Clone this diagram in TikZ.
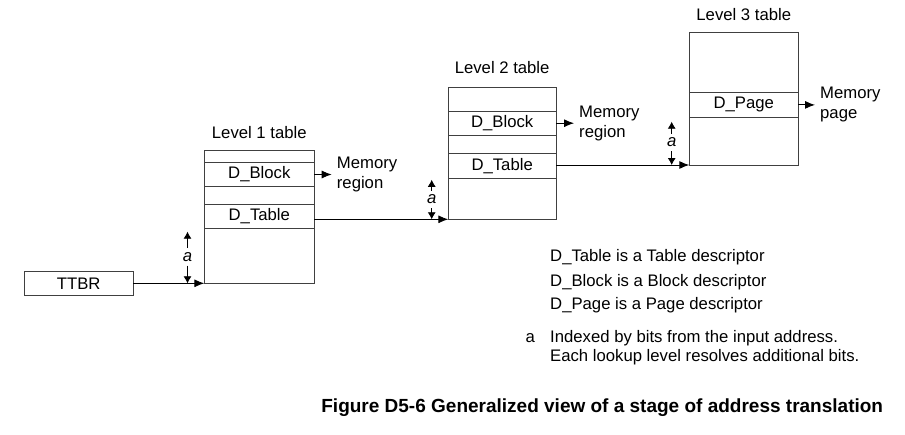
\documentclass[tikz,border=0pt]{standalone}
\usepackage{fontspec}
\setmainfont{Liberation Sans}
\usetikzlibrary{arrows.meta, positioning, calc}
\tikzset{
  txt/.style={font=\fontsize{16.7}{20}\selectfont,inner sep=0},
  tablebox/.style={draw=black!75,line width=0.9pt,inner sep=0,outer sep=0},
  entry/.style={tablebox,txt,minimum height=24.4pt},
  region/.style={txt,align=left,inner xsep=5pt},
  idxlabel/.style={txt,font=\fontsize{16.7}{20}\selectfont\itshape,inner sep=4pt},
  ptr/.style={line width=0.9pt,-{Latex[length=10pt,width=8pt]}},
  idx/.style={line width=0.8pt,-{Latex[length=7pt,width=8pt]}},
  figcaption/.style={txt,font=\fontsize{19}{22}\selectfont\bfseries},
}

\begin{document}
\begin{tikzpicture}[x=1pt,y=-1pt]
	    \useasboundingbox (0,0) rectangle (905,434);
	    % tables
	    \node[tablebox,minimum width=110pt,minimum height=132.6pt,anchor=north west] (L1) at (204.3,150.7) {};
	    \node[entry,minimum width=110pt,below=11.6pt of L1.north] (L1blk) {D\_Block};
	    \node[entry,minimum width=110pt,below=17.6pt of L1blk] (L1tbl) {D\_Table};
	    \node[tablebox,minimum width=107.7pt,minimum height=132pt,anchor=north west] (L2) at (448.3,87.3) {};
	    \node[entry,minimum width=107.7pt,below=23.7pt of L2.north] (L2blk) {D\_Block};
	    \node[entry,minimum width=107.7pt,below=18.3pt of L2blk] (L2tbl) {D\_Table};
	    \node[tablebox,minimum width=109pt,minimum height=132.7pt,anchor=north west] (L3) at (689.3,32.3) {};
	    \node[entry,minimum width=109pt,below=60.4pt of L3.north] (L3pg) {D\_Page};
	    \node[txt,above=12pt of L1] (T1) {Level 1 table};
	    \node[txt,above=13pt of L2] (T2) {Level 2 table};
	    \node[txt,above=11.3pt of L3] (T3) {Level 3 table};
	    \node[tablebox,txt,minimum width=109.3pt,minimum height=24pt] (TTBR) at (78.7,283.3) {TTBR};
	    % outputs
	    \node[region,right=17.4pt of L1blk.east] (M1) {Memory\\region};
	    \node[region,right=18pt of L2blk.east] (M2) {Memory\\region};
	    \node[region,right=16.7pt of L3pg.east] (M3) {Memory\\page};
	    \draw[ptr] (L1blk.east) -- (M1.west);
	    \draw[ptr] (L2blk.east) -- (M2.west);
	    \draw[ptr] (L3pg.east) -- (M3.west);
	    \draw[ptr] (TTBR.east) -- (L1.south west);
	    \draw[ptr] (L2.south west -| L1tbl.east) -- (L2.south west);
	    \draw[ptr] (L3.south west -| L2tbl.east) -- (L3.south west);
	    % index arrows
	    \node[idxlabel] (a1) at ($(L1.south west)+(-16.8,-26.5)$) {a};
	    \coordinate (a1t) at ($(L1.south west)+(-16.8,-51.6)$);
	    \coordinate (a1b) at (a1 |- L1.south);
	    \draw[idx] (a1) -- (a1t);
	    \draw[idx] (a1) -- (a1b);
	    \node[idxlabel] (a2) at ($(L2.south west)+(-16.6,-20)$) {a};
	    \coordinate (a2t) at ($(L2.south west)+(-16.6,-39.5)$);
	    \coordinate (a2b) at (a2 |- L2.south);
	    \draw[idx] (a2) -- (a2t);
	    \draw[idx] (a2) -- (a2b);
	    \node[idxlabel] (a3) at ($(L3.south west)+(-17.6,-22.5)$) {a};
	    \coordinate (a3t) at ($(L3.south west)+(-17.6,-43.3)$);
	    \coordinate (a3b) at (a3 |- L3.south);
	    \draw[idx] (a3) -- (a3t);
	    \draw[idx] (a3) -- (a3b);
	    % key
	    \node[txt,anchor=base west] (K1) at (550,261.7) {D\_Table is a Table descriptor};
	    \node[txt,anchor=base west] (K2) at (550,286) {D\_Block is a Block descriptor};
	    \node[txt,anchor=base west] (K3) at (550,309.3) {D\_Page is a Page descriptor};
	    \node[txt,anchor=base west] (Ka) at (525.5,342.7) {a};
	    \node[txt,anchor=base west] (Kb) at (550,342.7) {Indexed by bits from the input address.};
	    \node[txt,anchor=base west] (Kc) at (550,361.7) {Each lookup level resolves additional bits.};
	    \node[figcaption,anchor=base east] (CAP) at (883.3,412.3) {Figure D5-6 Generalized view of a stage of address translation};
	\end{tikzpicture}
\end{document}
